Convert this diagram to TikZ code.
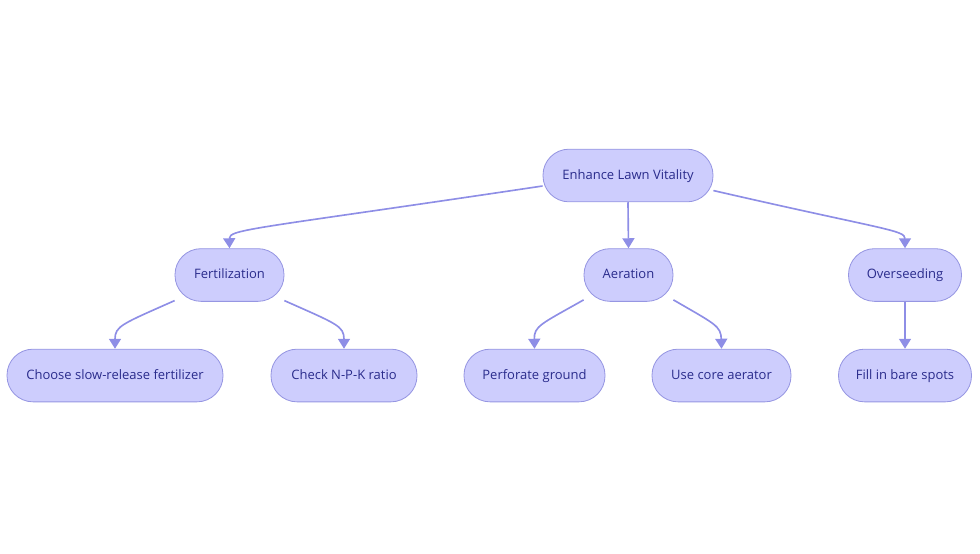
\documentclass[tikz,border=0pt]{standalone}
\usepackage{fontspec}
\setmainfont{Open Sans}
\usetikzlibrary{arrows.meta}
\definecolor{boxfill}{RGB}{205,205,253}
\definecolor{boxline}{RGB}{150,150,226}
\definecolor{boxtext}{RGB}{42,44,140}
\definecolor{edgecol}{RGB}{142,142,230}
\begin{document}
\begin{tikzpicture}[x=0.03cm, y=-0.03cm,
    box/.style={draw=boxline, fill=boxfill, line width=0.7pt, rounded corners=0.78cm,
      minimum height=1.58cm, text height=1.6ex, text depth=0.4ex, text=boxtext,
      font=\fontsize{11.1}{13}\selectfont},
    arr/.style={draw=edgecol, line width=1.4pt,
      -{Triangle[width=0.36cm, length=0.3cm]}}]
  \useasboundingbox (0,0) rectangle (980,553);
  % Wurzel
  \node[box, minimum width=5.1cm] (enh) at (628,175.5) {Enhance Lawn Vitality};
  % zweite Ebene
  \node[box, minimum width=3.27cm] (fert) at (229.5,275) {Fertilization};
  \node[box, minimum width=2.67cm] (aer) at (628.5,275) {Aeration};
  \node[box, minimum width=3.39cm] (over) at (905,275) {Overseeding};
  % dritte Ebene
  \node[box, minimum width=6.48cm] (slow) at (115,375.5) {Choose slow-release fertilizer};
  \node[box, minimum width=4.38cm] (npk) at (344,375.5) {Check N-P-K ratio};
  \node[box, minimum width=4.23cm] (perf) at (534.5,375.5) {Perforate ground};
  \node[box, minimum width=4.17cm] (core) at (721.5,375.5) {Use core aerator};
  \node[box, minimum width=3.99cm] (bare) at (905,375.5) {Fill in bare spots};
  % Kanten
  \draw[arr] (enh.187) .. controls (255,229) and (229,229) .. (fert.north);
  \draw[arr] (enh.south) -- (aer.north);
  \draw[arr] (enh.-10) .. controls (885,230) and (905,230) .. (over.north);
  \draw[arr] (over) -- (bare);
  \draw[arr] (fert.205) .. controls (122,324) and (115,326) .. (slow.north);
  \draw[arr] (fert.-25) .. controls (337,324) and (344,326) .. (npk.north);
  \draw[arr] (aer.209) .. controls (541,324) and (534,326) .. (perf.north);
  \draw[arr] (aer.-29) .. controls (715,324) and (721,326) .. (core.north);
\end{tikzpicture}
\end{document}
